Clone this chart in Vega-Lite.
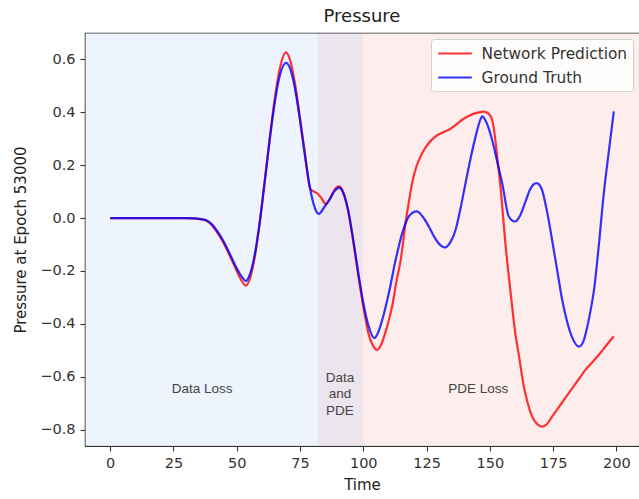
{
  "$schema": "https://vega.github.io/schema/vega-lite/v6.json",
  "width": 554,
  "height": 413,
  "autosize": {"type": "none"},
  "padding": {"left": 85, "top": 33, "right": 0, "bottom": 53},
  "background": "white",
  "title": {"text": "Pressure", "font": "DejaVu Sans", "fontSize": 18, "fontWeight": "normal", "color": "#222", "anchor": "middle", "offset": 7},
  "config": {
    "view": {"stroke": "#333", "strokeWidth": 1.2},
    "axis": {"domain": false, "tickColor": "#333", "labelColor": "#333", "titleColor": "#222", "labelFont": "DejaVu Sans", "labelFontSize": 14.5, "titleFont": "DejaVu Sans", "titleFontSize": 15, "titleFontWeight": "normal", "tickSize": 5, "tickWidth": 1.1, "labelPadding": 5, "grid": false},
    "axisX": {"titlePadding": 8},
    "axisY": {"titlePadding": 11}
  },
  "datasets": {
    "regions": [
      {"start": -9.71, "end": 82, "region": "Data Loss"},
      {"start": 82, "end": 100, "region": "Data and PDE"},
      {"start": 100, "end": 208.95, "region": "PDE Loss"}
    ],
    "labels": [
      {"x": 36.3, "y": -0.646, "label": "Data Loss"},
      {"x": 90.8, "y": -0.603, "label": "Data\nand\nPDE"},
      {"x": 145.4, "y": -0.646, "label": "PDE Loss"}
    ],
    "curves": [
      {"time": 0, "pressure": 0, "series": "Network Prediction"},
      {"time": 10, "pressure": 0, "series": "Network Prediction"},
      {"time": 20, "pressure": 0, "series": "Network Prediction"},
      {"time": 30, "pressure": 0, "series": "Network Prediction"},
      {"time": 33, "pressure": -0.001, "series": "Network Prediction"},
      {"time": 36, "pressure": -0.005, "series": "Network Prediction"},
      {"time": 38, "pressure": -0.01, "series": "Network Prediction"},
      {"time": 40, "pressure": -0.025, "series": "Network Prediction"},
      {"time": 42, "pressure": -0.05, "series": "Network Prediction"},
      {"time": 44, "pressure": -0.08, "series": "Network Prediction"},
      {"time": 46, "pressure": -0.117, "series": "Network Prediction"},
      {"time": 48, "pressure": -0.158, "series": "Network Prediction"},
      {"time": 50, "pressure": -0.2, "series": "Network Prediction"},
      {"time": 52, "pressure": -0.238, "series": "Network Prediction"},
      {"time": 53.6, "pressure": -0.256, "series": "Network Prediction"},
      {"time": 55, "pressure": -0.235, "series": "Network Prediction"},
      {"time": 57, "pressure": -0.155, "series": "Network Prediction"},
      {"time": 59, "pressure": -0.025, "series": "Network Prediction"},
      {"time": 61, "pressure": 0.135, "series": "Network Prediction"},
      {"time": 63, "pressure": 0.3, "series": "Network Prediction"},
      {"time": 65, "pressure": 0.45, "series": "Network Prediction"},
      {"time": 67, "pressure": 0.565, "series": "Network Prediction"},
      {"time": 69.5, "pressure": 0.627, "series": "Network Prediction"},
      {"time": 71, "pressure": 0.6, "series": "Network Prediction"},
      {"time": 73, "pressure": 0.51, "series": "Network Prediction"},
      {"time": 75, "pressure": 0.38, "series": "Network Prediction"},
      {"time": 77, "pressure": 0.24, "series": "Network Prediction"},
      {"time": 79, "pressure": 0.112, "series": "Network Prediction"},
      {"time": 80.5, "pressure": 0.1, "series": "Network Prediction"},
      {"time": 82, "pressure": 0.092, "series": "Network Prediction"},
      {"time": 83.5, "pressure": 0.075, "series": "Network Prediction"},
      {"time": 85.2, "pressure": 0.054, "series": "Network Prediction"},
      {"time": 87, "pressure": 0.075, "series": "Network Prediction"},
      {"time": 88.5, "pressure": 0.105, "series": "Network Prediction"},
      {"time": 90.4, "pressure": 0.12, "series": "Network Prediction"},
      {"time": 92, "pressure": 0.1, "series": "Network Prediction"},
      {"time": 94, "pressure": 0.03, "series": "Network Prediction"},
      {"time": 96, "pressure": -0.085, "series": "Network Prediction"},
      {"time": 98, "pressure": -0.215, "series": "Network Prediction"},
      {"time": 100, "pressure": -0.335, "series": "Network Prediction"},
      {"time": 102, "pressure": -0.435, "series": "Network Prediction"},
      {"time": 104, "pressure": -0.485, "series": "Network Prediction"},
      {"time": 105.5, "pressure": -0.498, "series": "Network Prediction"},
      {"time": 107, "pressure": -0.48, "series": "Network Prediction"},
      {"time": 108.5, "pressure": -0.44, "series": "Network Prediction"},
      {"time": 110, "pressure": -0.39, "series": "Network Prediction"},
      {"time": 111.5, "pressure": -0.33, "series": "Network Prediction"},
      {"time": 113, "pressure": -0.245, "series": "Network Prediction"},
      {"time": 114.8, "pressure": -0.158, "series": "Network Prediction"},
      {"time": 116.7, "pressure": -0.019, "series": "Network Prediction"},
      {"time": 118, "pressure": 0.06, "series": "Network Prediction"},
      {"time": 119.3, "pressure": 0.132, "series": "Network Prediction"},
      {"time": 121, "pressure": 0.195, "series": "Network Prediction"},
      {"time": 123.3, "pressure": 0.246, "series": "Network Prediction"},
      {"time": 126, "pressure": 0.285, "series": "Network Prediction"},
      {"time": 128.6, "pressure": 0.309, "series": "Network Prediction"},
      {"time": 131, "pressure": 0.322, "series": "Network Prediction"},
      {"time": 133.8, "pressure": 0.334, "series": "Network Prediction"},
      {"time": 136.5, "pressure": 0.352, "series": "Network Prediction"},
      {"time": 139.1, "pressure": 0.372, "series": "Network Prediction"},
      {"time": 142, "pressure": 0.388, "series": "Network Prediction"},
      {"time": 144.4, "pressure": 0.397, "series": "Network Prediction"},
      {"time": 147.6, "pressure": 0.403, "series": "Network Prediction"},
      {"time": 149.5, "pressure": 0.395, "series": "Network Prediction"},
      {"time": 150.9, "pressure": 0.372, "series": "Network Prediction"},
      {"time": 152, "pressure": 0.31, "series": "Network Prediction"},
      {"time": 152.9, "pressure": 0.233, "series": "Network Prediction"},
      {"time": 154.4, "pressure": 0.1, "series": "Network Prediction"},
      {"time": 156.2, "pressure": -0.1, "series": "Network Prediction"},
      {"time": 158.2, "pressure": -0.28, "series": "Network Prediction"},
      {"time": 160, "pressure": -0.43, "series": "Network Prediction"},
      {"time": 161.5, "pressure": -0.52, "series": "Network Prediction"},
      {"time": 163.5, "pressure": -0.64, "series": "Network Prediction"},
      {"time": 165, "pressure": -0.7, "series": "Network Prediction"},
      {"time": 166.7, "pressure": -0.75, "series": "Network Prediction"},
      {"time": 168.5, "pressure": -0.777, "series": "Network Prediction"},
      {"time": 170.7, "pressure": -0.789, "series": "Network Prediction"},
      {"time": 172.5, "pressure": -0.78, "series": "Network Prediction"},
      {"time": 174.6, "pressure": -0.751, "series": "Network Prediction"},
      {"time": 178, "pressure": -0.705, "series": "Network Prediction"},
      {"time": 181.2, "pressure": -0.662, "series": "Network Prediction"},
      {"time": 184.5, "pressure": -0.618, "series": "Network Prediction"},
      {"time": 187.8, "pressure": -0.574, "series": "Network Prediction"},
      {"time": 190.5, "pressure": -0.545, "series": "Network Prediction"},
      {"time": 193.1, "pressure": -0.517, "series": "Network Prediction"},
      {"time": 196, "pressure": -0.482, "series": "Network Prediction"},
      {"time": 199, "pressure": -0.447, "series": "Network Prediction"},
      {"time": 0, "pressure": 0, "series": "Ground Truth"},
      {"time": 10, "pressure": 0, "series": "Ground Truth"},
      {"time": 20, "pressure": 0, "series": "Ground Truth"},
      {"time": 30, "pressure": 0, "series": "Ground Truth"},
      {"time": 33, "pressure": -0.001, "series": "Ground Truth"},
      {"time": 36, "pressure": -0.004, "series": "Ground Truth"},
      {"time": 38, "pressure": -0.008, "series": "Ground Truth"},
      {"time": 40, "pressure": -0.022, "series": "Ground Truth"},
      {"time": 42, "pressure": -0.045, "series": "Ground Truth"},
      {"time": 44, "pressure": -0.075, "series": "Ground Truth"},
      {"time": 46, "pressure": -0.11, "series": "Ground Truth"},
      {"time": 48, "pressure": -0.15, "series": "Ground Truth"},
      {"time": 50, "pressure": -0.19, "series": "Ground Truth"},
      {"time": 52, "pressure": -0.222, "series": "Ground Truth"},
      {"time": 53.6, "pressure": -0.238, "series": "Ground Truth"},
      {"time": 55, "pressure": -0.218, "series": "Ground Truth"},
      {"time": 57, "pressure": -0.144, "series": "Ground Truth"},
      {"time": 59, "pressure": -0.022, "series": "Ground Truth"},
      {"time": 61, "pressure": 0.132, "series": "Ground Truth"},
      {"time": 63, "pressure": 0.293, "series": "Ground Truth"},
      {"time": 65, "pressure": 0.435, "series": "Ground Truth"},
      {"time": 67, "pressure": 0.538, "series": "Ground Truth"},
      {"time": 69.5, "pressure": 0.587, "series": "Ground Truth"},
      {"time": 71, "pressure": 0.568, "series": "Ground Truth"},
      {"time": 73, "pressure": 0.491, "series": "Ground Truth"},
      {"time": 75, "pressure": 0.37, "series": "Ground Truth"},
      {"time": 77, "pressure": 0.233, "series": "Ground Truth"},
      {"time": 79, "pressure": 0.112, "series": "Ground Truth"},
      {"time": 80.5, "pressure": 0.049, "series": "Ground Truth"},
      {"time": 82.5, "pressure": 0.016, "series": "Ground Truth"},
      {"time": 84.5, "pressure": 0.04, "series": "Ground Truth"},
      {"time": 86.5, "pressure": 0.068, "series": "Ground Truth"},
      {"time": 88.5, "pressure": 0.1, "series": "Ground Truth"},
      {"time": 90.4, "pressure": 0.115, "series": "Ground Truth"},
      {"time": 92, "pressure": 0.097, "series": "Ground Truth"},
      {"time": 94, "pressure": 0.03, "series": "Ground Truth"},
      {"time": 96, "pressure": -0.08, "series": "Ground Truth"},
      {"time": 98, "pressure": -0.205, "series": "Ground Truth"},
      {"time": 100, "pressure": -0.32, "series": "Ground Truth"},
      {"time": 102, "pressure": -0.405, "series": "Ground Truth"},
      {"time": 104.3, "pressure": -0.454, "series": "Ground Truth"},
      {"time": 106, "pressure": -0.43, "series": "Ground Truth"},
      {"time": 107.5, "pressure": -0.385, "series": "Ground Truth"},
      {"time": 110.1, "pressure": -0.284, "series": "Ground Truth"},
      {"time": 112.8, "pressure": -0.158, "series": "Ground Truth"},
      {"time": 115.4, "pressure": -0.057, "series": "Ground Truth"},
      {"time": 118, "pressure": 0.006, "series": "Ground Truth"},
      {"time": 121.1, "pressure": 0.025, "series": "Ground Truth"},
      {"time": 123.5, "pressure": 0.005, "series": "Ground Truth"},
      {"time": 125.9, "pressure": -0.032, "series": "Ground Truth"},
      {"time": 128, "pressure": -0.07, "series": "Ground Truth"},
      {"time": 130, "pressure": -0.098, "series": "Ground Truth"},
      {"time": 132.3, "pressure": -0.111, "series": "Ground Truth"},
      {"time": 134.5, "pressure": -0.09, "series": "Ground Truth"},
      {"time": 136.5, "pressure": -0.044, "series": "Ground Truth"},
      {"time": 138.5, "pressure": 0.04, "series": "Ground Truth"},
      {"time": 140.4, "pressure": 0.132, "series": "Ground Truth"},
      {"time": 142.5, "pressure": 0.23, "series": "Ground Truth"},
      {"time": 144.4, "pressure": 0.309, "series": "Ground Truth"},
      {"time": 146, "pressure": 0.365, "series": "Ground Truth"},
      {"time": 147, "pressure": 0.385, "series": "Ground Truth"},
      {"time": 148.5, "pressure": 0.365, "series": "Ground Truth"},
      {"time": 150.9, "pressure": 0.296, "series": "Ground Truth"},
      {"time": 153, "pressure": 0.21, "series": "Ground Truth"},
      {"time": 154.9, "pressure": 0.132, "series": "Ground Truth"},
      {"time": 157.5, "pressure": 0.006, "series": "Ground Truth"},
      {"time": 159.9, "pressure": -0.013, "series": "Ground Truth"},
      {"time": 162, "pressure": 0.01, "series": "Ground Truth"},
      {"time": 164, "pressure": 0.06, "series": "Ground Truth"},
      {"time": 166, "pressure": 0.11, "series": "Ground Truth"},
      {"time": 168.5, "pressure": 0.132, "series": "Ground Truth"},
      {"time": 170.5, "pressure": 0.11, "series": "Ground Truth"},
      {"time": 172.5, "pressure": 0.03, "series": "Ground Truth"},
      {"time": 174.6, "pressure": -0.082, "series": "Ground Truth"},
      {"time": 176.5, "pressure": -0.19, "series": "Ground Truth"},
      {"time": 178.6, "pressure": -0.309, "series": "Ground Truth"},
      {"time": 180.5, "pressure": -0.39, "series": "Ground Truth"},
      {"time": 182.5, "pressure": -0.45, "series": "Ground Truth"},
      {"time": 185.2, "pressure": -0.486, "series": "Ground Truth"},
      {"time": 186.8, "pressure": -0.47, "series": "Ground Truth"},
      {"time": 188.3, "pressure": -0.42, "series": "Ground Truth"},
      {"time": 189.8, "pressure": -0.35, "series": "Ground Truth"},
      {"time": 191.2, "pressure": -0.27, "series": "Ground Truth"},
      {"time": 193, "pressure": -0.11, "series": "Ground Truth"},
      {"time": 195, "pressure": 0.09, "series": "Ground Truth"},
      {"time": 197, "pressure": 0.25, "series": "Ground Truth"},
      {"time": 199, "pressure": 0.404, "series": "Ground Truth"}
    ]
  },
  "layer": [
    {
      "data": {"name": "regions"},
      "mark": {"type": "rect"},
      "encoding": {
        "x": {"field": "start", "type": "quantitative", "scale": {"domain": [-9.95, 208.95], "nice": false, "zero": false}, "axis": {"values": [0, 25, 50, 75, 100, 125, 150, 175, 200], "title": "Time"}},
        "x2": {"field": "end"},
        "y": {"datum": 0.6977, "type": "quantitative", "scale": {"domain": [-0.862, 0.7], "nice": false, "zero": false}},
        "y2": {"datum": -0.8597},
        "fill": {"field": "region", "type": "nominal", "scale": {"domain": ["Data Loss", "Data and PDE", "PDE Loss"], "range": ["#eef4fd", "#ede5ee", "#fdeded"]}, "legend": null}
      }
    },
    {
      "data": {"name": "curves"},
      "mark": {"type": "line", "interpolate": "monotone", "strokeWidth": 2.2, "opacity": 0.8},
      "encoding": {
        "x": {"field": "time", "type": "quantitative", "scale": {"domain": [-9.95, 208.95], "nice": false, "zero": false}},
        "y": {"field": "pressure", "type": "quantitative", "scale": {"domain": [-0.862, 0.7], "nice": false, "zero": false}, "axis": {"values": [-0.8, -0.6, -0.4, -0.2, 0, 0.2, 0.4, 0.6], "format": ".1f", "title": "Pressure at Epoch 53000"}},
        "stroke": {"field": "series", "type": "nominal", "scale": {"domain": ["Network Prediction", "Ground Truth"], "range": ["#ff0000", "#0000ff"]},
          "legend": {"title": null, "orient": "top-right", "offset": 6, "symbolType": "M-2.1,0H2.1", "symbolSize": 256, "symbolStrokeWidth": 2.2, "symbolOffset": 9.5, "labelFont": "DejaVu Sans", "labelFontSize": 15.4, "labelColor": "#333", "fillColor": "rgba(255,255,255,0.8)", "strokeColor": "#d0d0d0", "cornerRadius": 3, "padding": 5, "rowPadding": 6, "labelOffset": 17}}
      }
    },
    {
      "data": {"name": "labels"},
      "mark": {"type": "text", "font": "Liberation Sans", "fontSize": 13.5, "color": "#444", "align": "center", "baseline": "middle", "lineBreak": "\n", "lineHeight": 16.5},
      "encoding": {
        "x": {"field": "x", "type": "quantitative", "scale": {"domain": [-9.95, 208.95], "nice": false, "zero": false}},
        "y": {"field": "y", "type": "quantitative", "scale": {"domain": [-0.862, 0.7], "nice": false, "zero": false}},
        "text": {"field": "label"}
      }
    }
  ]
}
